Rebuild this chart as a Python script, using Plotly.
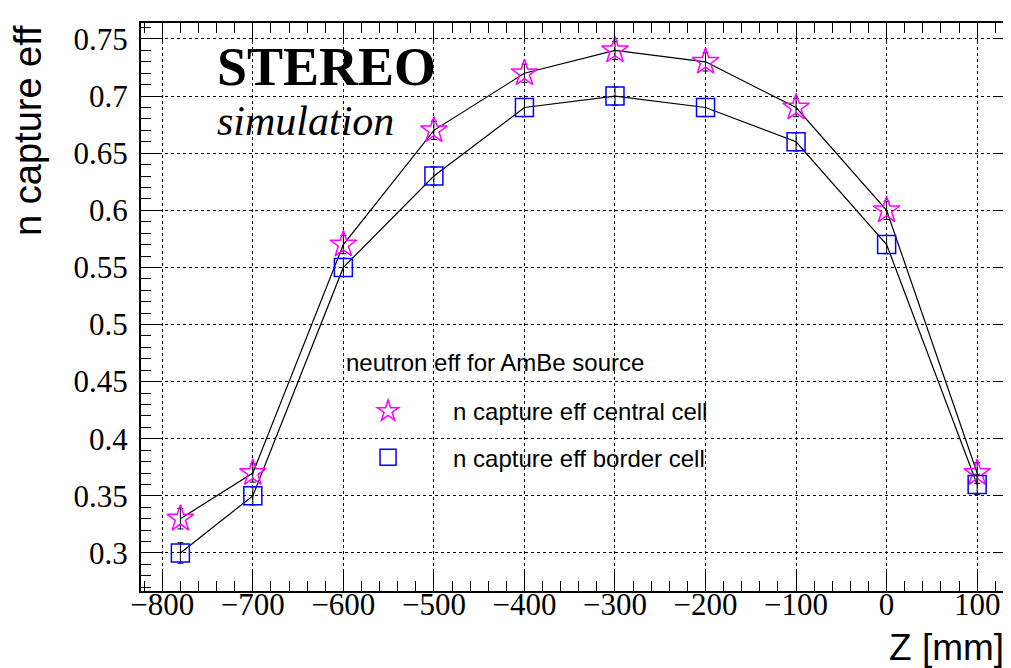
import plotly.graph_objects as go

# z positions (mm) and capture efficiencies
z_pos = [-780, -700, -600, -500, -400, -300, -200, -100, 0, 100]
eff_central = [0.33, 0.37, 0.57, 0.67, 0.72, 0.74, 0.73, 0.69, 0.60, 0.37]
eff_border = [0.30, 0.35, 0.55, 0.63, 0.69, 0.70, 0.69, 0.66, 0.57, 0.36]
err_central = [0.009, 0.008, 0.008, 0.008, 0.008, 0.008, 0.008, 0.008, 0.008, 0.009]
err_border = [0.009, 0.008, 0.008, 0.008, 0.008, 0.008, 0.008, 0.008, 0.008, 0.009]

# tick positions and labels
x_ticks = [-800, -700, -600, -500, -400, -300, -200, -100, 0, 100]
x_labels = ['\u2212800', '\u2212700', '\u2212600', '\u2212500', '\u2212400',
            '\u2212300', '\u2212200', '\u2212100', '0', '100']
y_ticks = [0.3, 0.35, 0.4, 0.45, 0.5, 0.55, 0.6, 0.65, 0.7, 0.75]
y_labels = ['0.3', '0.35', '0.4', '0.45', '0.5', '0.55', '0.6', '0.65', '0.7', '0.75']

SERIF = 'Liberation Serif'
SANS = 'Liberation Sans'

fig = go.Figure()

for y in (eff_central, eff_border):
    fig.add_trace(go.Scatter(x=z_pos, y=y, mode='lines',
                             line=dict(color='black', width=1.2),
                             showlegend=False, hoverinfo='skip'))

fig.add_trace(go.Scatter(x=z_pos, y=eff_central, mode='markers',
                         name='n capture eff central cell', legendgroup='c',
                         marker=dict(symbol='star-open', size=20, color='#ff00ff',
                                     line=dict(width=1.5, color='#ff00ff')),
                         error_y=dict(type='data', array=err_central, color='black',
                                      thickness=1, width=3)))

fig.add_trace(go.Scatter(x=z_pos, y=eff_border, mode='markers',
                         name='n capture eff border cell', legendgroup='b',
                         marker=dict(symbol='square-open', size=18, color='#0000ff',
                                     line=dict(width=1.5, color='#0000ff')),
                         error_y=dict(type='data', array=err_border, color='black',
                                      thickness=1, width=3)))

axis_common = dict(showline=True, linecolor='black', linewidth=2, mirror='allticks',
                   ticks='inside', ticklen=19, tickwidth=1, tickcolor='black',
                   showgrid=True, gridcolor='black', griddash='dot', gridwidth=1,
                   zeroline=False, tickmode='array',
                   tickfont=dict(family=SERIF, size=31, color='black'))

fig.update_layout(
    xaxis=dict(range=[-823.5, 141.8], tickvals=x_ticks, ticktext=x_labels,
               ticklabelstandoff=-15,
               minor=dict(tickmode='linear', tick0=0, dtick=20, ticklen=10,
                          ticks='inside', tickcolor='black', showgrid=False),
               **axis_common),
    yaxis=dict(range=[0.2667, 0.764], tickvals=y_ticks, ticktext=y_labels,
               ticklabelstandoff=5,
               minor=dict(tickmode='linear', tick0=0, dtick=0.01, ticklen=10,
                          ticks='inside', tickcolor='black', showgrid=False),
               **axis_common),
)

fig.update_layout(
    width=1011, height=668,
    margin=dict(l=133, r=2, t=15, b=85),
    plot_bgcolor='white', paper_bgcolor='white',
    showlegend=True,
    legend=dict(x=0.2083, y=0.3556, xanchor='left', yanchor='top',
                bgcolor='rgba(0,0,0,0)', borderwidth=0,
                font=dict(family=SANS, size=24, color='black'),
                traceorder='grouped', tracegroupgap=12, itemwidth=120),
    # white patch behind the legend hides the grid there, as in the original
    shapes=[dict(type='rect', xref='paper', yref='paper', x0=0.2169, x1=0.8242,
                 y0=0.1778, y1=0.419, fillcolor='white', line=dict(width=0),
                 layer='between')],
    annotations=[
        dict(text='neutron eff for AmBe source', xref='paper', yref='paper',
             x=0.2317, y=0.403, xanchor='left', yanchor='middle', showarrow=False,
             font=dict(family=SANS, size=24, color='black')),
        dict(text='<b>STEREO</b>', xref='paper', yref='paper', x=0.085, y=0.923,
             xanchor='left', yanchor='middle', showarrow=False,
             font=dict(family=SERIF, size=54, color='black')),
        dict(text='<i>simulation</i>', xref='paper', yref='paper', x=0.085, y=0.828,
             xanchor='left', yanchor='middle', showarrow=False,
             font=dict(family=SERIF, size=42, color='black')),
        dict(text='n capture eff', xref='paper', yref='paper', x=-0.13, y=1.0,
             xanchor='center', yanchor='top', textangle=-90, showarrow=False,
             font=dict(family=SANS, size=38, color='black')),
        dict(text='Z [mm]', xref='paper', yref='paper', x=0.99, y=-0.1,
             xanchor='right', yanchor='middle', showarrow=False,
             font=dict(family=SANS, size=37, color='black')),
    ],
)

fig.write_html("out.html")
